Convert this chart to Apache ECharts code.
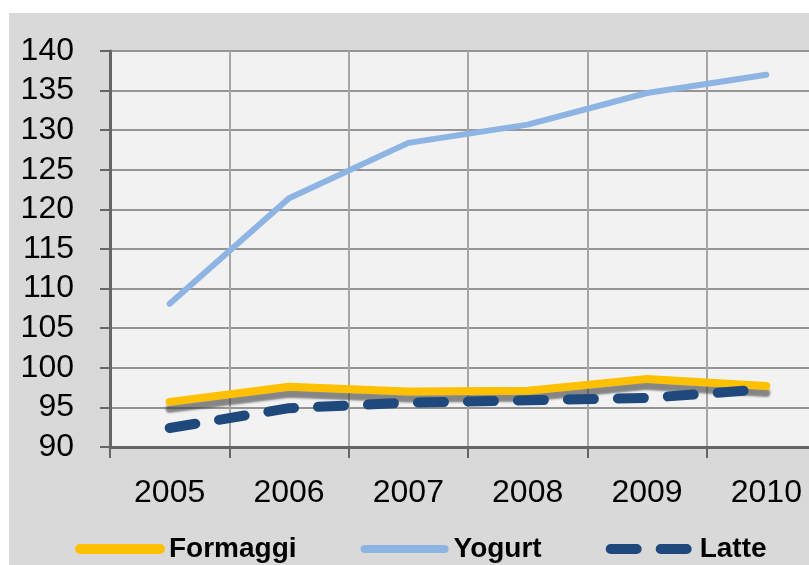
<!DOCTYPE html>
<html>
<head>
<meta charset="utf-8">
<script src="https://cdn.jsdelivr.net/npm/echarts@6/dist/echarts.min.js"></script>
<style>
  html, body { margin: 0; padding: 0; background: #fff; }
  #chart { width: 809px; height: 565px; }
</style>
</head>
<body>
<div id="chart"></div>
<script>
// dati
const years = ['2005', '2006', '2007', '2008', '2009', '2010']
const formaggi = [95.7, 97.6, 97.0, 97.1, 98.6, 97.7]
const yogurt = [108.1, 121.4, 128.4, 130.7, 134.7, 137.0]
const latte = [92.4, 94.9, 95.6, 95.9, 96.2, 97.3]

const font = "'Liberation Sans', Arial, sans-serif"
const colori = { Formaggi: '#ffc000', Yogurt: '#8eb4e3', Latte: '#1f497d' }

const chart = echarts.init(document.getElementById('chart'))

const option = {
  animation: false,
  backgroundColor: '#ffffff',
  // sfondo grigio dell'area grafico
  graphic: [
    {
      type: 'rect',
      z: -10,
      silent: true,
      shape: { x: 9, y: 13, width: 800, height: 552 },
      style: { fill: '#d9d9d9' }
    }
  ],
  // l'area del grafico esce a destra come nell'originale
  grid: {
    left: 110,
    width: 716,
    top: 51,
    bottom: 118,
    outerBoundsMode: 'none',
    containLabel: false,
    show: true,
    backgroundColor: '#f2f2f2',
    borderColor: '#7f7f7f',
    borderWidth: 2
  },
  legend: {
    left: 70,
    top: 530,
    itemWidth: 80,
    itemHeight: 10,
    itemGap: 64,
    itemStyle: { opacity: 0 },
    textStyle: {
      fontFamily: font,
      fontSize: 28,
      fontWeight: 'bold',
      color: '#000',
      padding: [0, 0, 0, 4]
    },
    data: [
      { name: 'Formaggi', lineStyle: { width: 10, cap: 'round', color: colori.Formaggi } },
      { name: 'Yogurt', lineStyle: { width: 8, cap: 'round', color: colori.Yogurt } },
      { name: 'Latte', lineStyle: { width: 10, cap: 'round', type: [26, 24], color: colori.Latte } }
    ]
  },
  xAxis: {
    type: 'category',
    data: years,
    boundaryGap: true,
    axisLine: { lineStyle: { color: '#666666', width: 3 } },
    axisTick: { show: true, length: 11, lineStyle: { color: '#666666', width: 2 } },
    axisLabel: {
      fontFamily: font,
      fontSize: 32,
      color: '#000',
      margin: 30
    },
    splitLine: { show: true, lineStyle: { color: '#a6a6a6', width: 2 } }
  },
  yAxis: {
    type: 'value',
    min: 90,
    max: 140,
    interval: 5,
    axisLine: { show: true, lineStyle: { color: '#666666', width: 3 } },
    axisTick: { show: true, length: 10, lineStyle: { color: '#666666', width: 2 } },
    axisLabel: {
      fontFamily: font,
      fontSize: 32,
      color: '#000',
      margin: 36
    },
    splitLine: { show: true, lineStyle: { color: '#959595', width: 2 } }
  },
  series: [
    {
      name: 'Formaggi',
      type: 'line',
      data: formaggi,
      symbol: 'none',
      color: colori.Formaggi,
      lineStyle: {
        color: colori.Formaggi,
        width: 8,
        cap: 'round',
        join: 'round',
        shadowColor: 'rgba(60, 60, 60, 0.6)',
        shadowBlur: 2,
        shadowOffsetY: 7
      }
    },
    {
      name: 'Yogurt',
      type: 'line',
      data: yogurt,
      symbol: 'none',
      color: colori.Yogurt,
      lineStyle: { color: colori.Yogurt, width: 6, cap: 'round', join: 'round' }
    },
    {
      name: 'Latte',
      type: 'line',
      data: latte,
      symbol: 'none',
      color: colori.Latte,
      lineStyle: {
        color: colori.Latte,
        width: 10,
        type: [26, 24],
        cap: 'round',
        join: 'round'
      }
    }
  ]
}

chart.setOption(option)
</script>
</body>
</html>
